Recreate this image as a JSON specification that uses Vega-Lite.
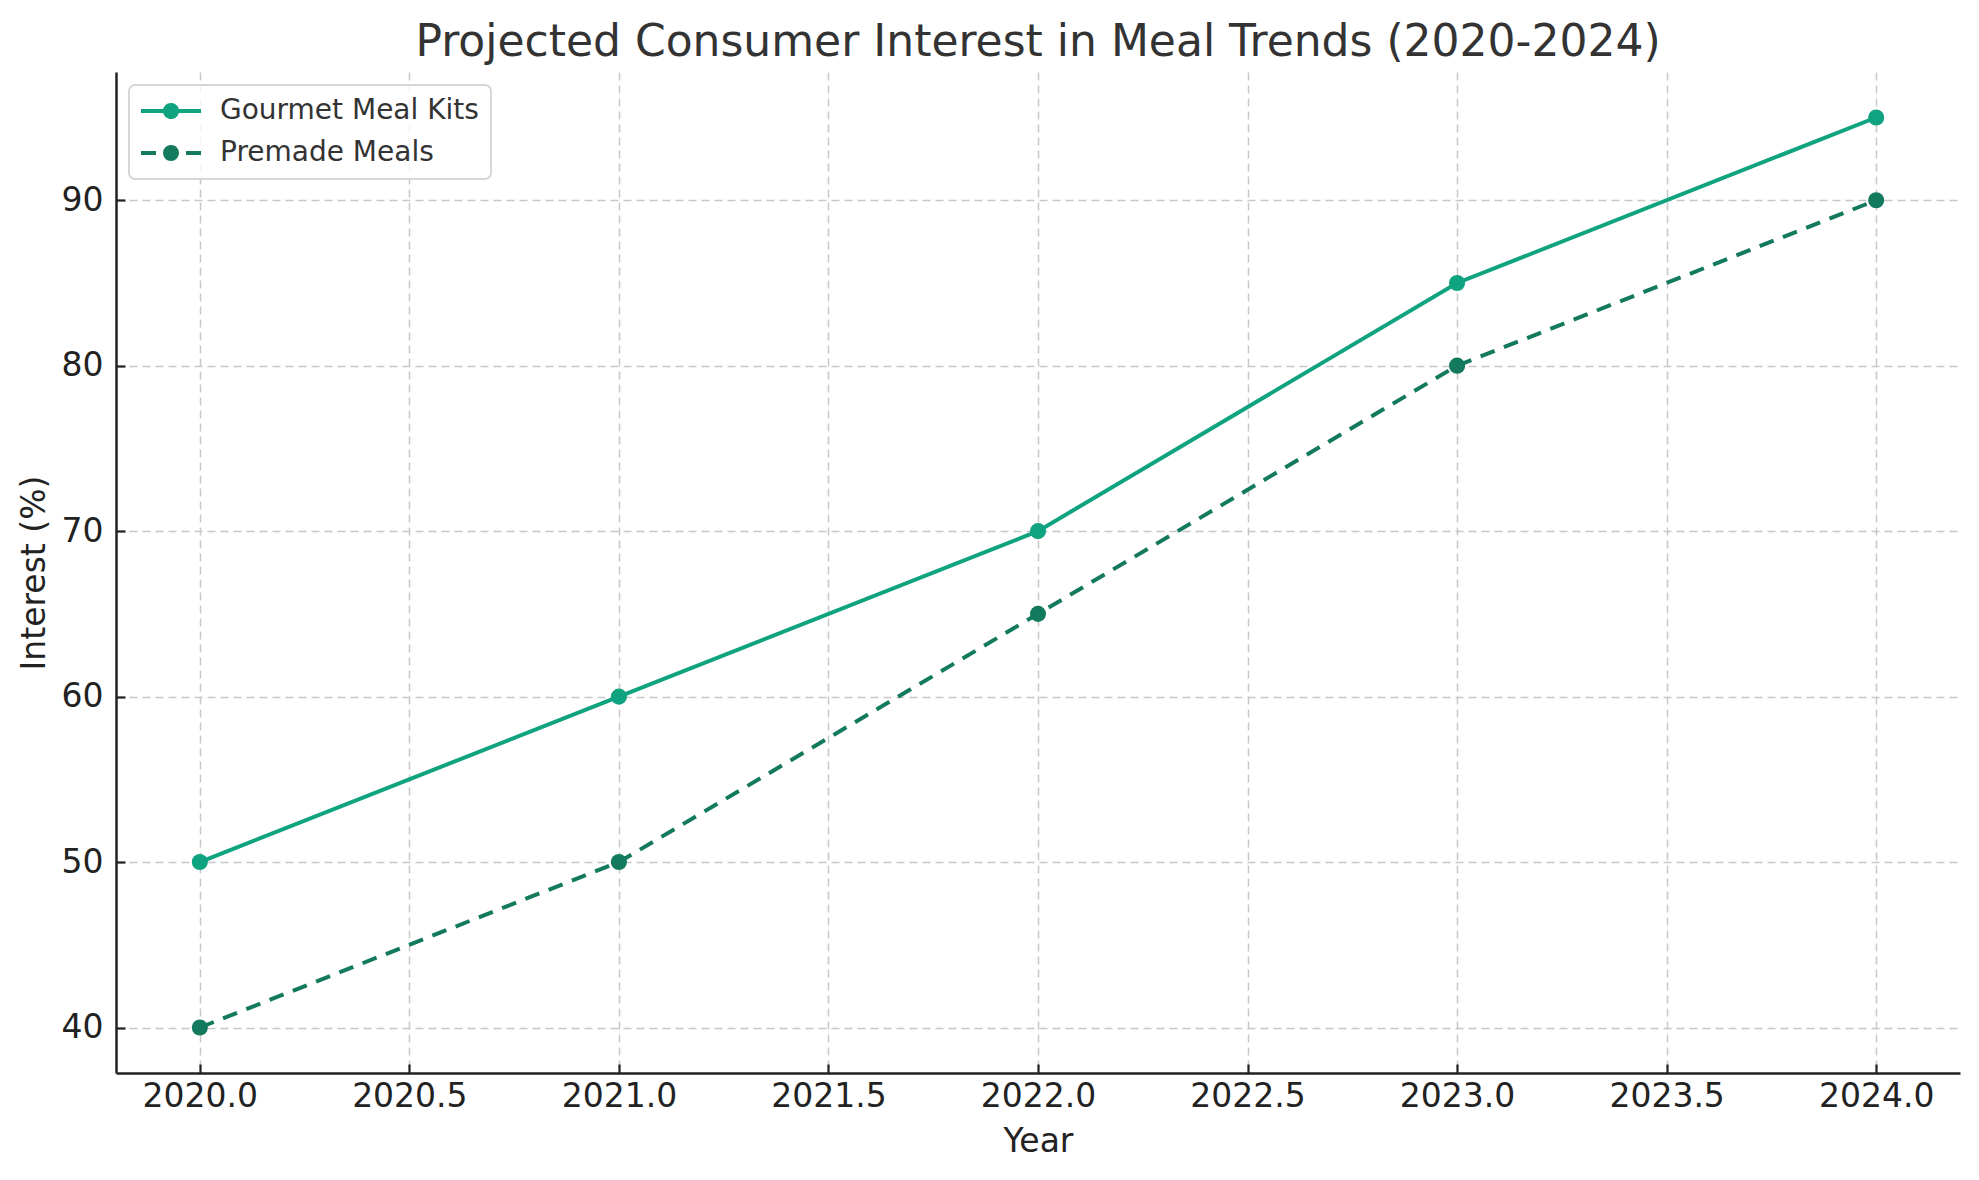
{
  "$schema": "https://vega.github.io/schema/vega-lite/v6.json",
  "autosize": "none",
  "width": 1844,
  "height": 1001,
  "padding": {"left": 116, "top": 72, "right": 19, "bottom": 107},
  "background": "white",
  "title": {
    "text": "Projected Consumer Interest in Meal Trends (2020-2024)",
    "font": "DejaVu Sans",
    "fontSize": 44,
    "fontWeight": "normal",
    "color": "#333333",
    "anchor": "middle",
    "offset": 7
  },
  "config": {
    "font": "DejaVu Sans",
    "view": {"stroke": null},
    "axis": {
      "labelFont": "DejaVu Sans",
      "labelFontSize": 33,
      "labelColor": "#222222",
      "titleFont": "DejaVu Sans",
      "titleFontSize": 33,
      "titleFontWeight": "normal",
      "titleColor": "#222222",
      "domainColor": "#222222",
      "domainWidth": 2.5,
      "tickColor": "#222222",
      "tickWidth": 2.2,
      "tickSize": -9,
      "gridColor": "#c8c8c8",
      "gridWidth": 1.5,
      "gridDash": [8, 5]
    }
  },
  "data": {
    "values": [
      {"year": 2020, "series": "Gourmet Meal Kits", "interest": 50},
      {"year": 2021, "series": "Gourmet Meal Kits", "interest": 60},
      {"year": 2022, "series": "Gourmet Meal Kits", "interest": 70},
      {"year": 2023, "series": "Gourmet Meal Kits", "interest": 85},
      {"year": 2024, "series": "Gourmet Meal Kits", "interest": 95},
      {"year": 2020, "series": "Premade Meals", "interest": 40},
      {"year": 2021, "series": "Premade Meals", "interest": 50},
      {"year": 2022, "series": "Premade Meals", "interest": 65},
      {"year": 2023, "series": "Premade Meals", "interest": 80},
      {"year": 2024, "series": "Premade Meals", "interest": 90}
    ]
  },
  "encoding": {
    "x": {
      "field": "year",
      "type": "quantitative",
      "scale": {"domain": [2019.8, 2024.2], "nice": false, "zero": false},
      "axis": {
        "title": "Year",
        "values": [2020, 2020.5, 2021, 2021.5, 2022, 2022.5, 2023, 2023.5, 2024],
        "format": ".1f",
        "labelPadding": 16,
        "titlePadding": 12
      }
    },
    "y": {
      "field": "interest",
      "type": "quantitative",
      "scale": {"domain": [37.25, 97.75], "nice": false, "zero": false},
      "axis": {
        "title": "Interest (%)",
        "values": [40, 50, 60, 70, 80, 90],
        "labelPadding": 22,
        "titlePadding": 10
      }
    },
    "color": {
      "field": "series",
      "type": "nominal",
      "scale": {
        "domain": ["Gourmet Meal Kits", "Premade Meals"],
        "range": ["#10A37F", "#147A5E"]
      },
      "legend": {
        "title": null,
        "orient": "top-left",
        "offset": 13,
        "padding": 12,
        "rowPadding": 14,
        "symbolType": "M-2.5,0H0M2.5,0H0M0.5,0A0.5,0.5,0,1,1,-0.5,0A0.5,0.5,0,1,1,0.5,0ZM-0.5,0A0.5,0.5,0,1,1,0.5,0A0.5,0.5,0,1,1,-0.5,0Z",
        "symbolSize": 576,
        "symbolStrokeWidth": 4,
        "symbolOffset": 16,
        "labelOffset": 35,
        "labelLimit": 0,
        "labelFont": "DejaVu Sans",
        "labelFontSize": 28,
        "labelColor": "#333333",
        "strokeColor": "#d6d6d6",
        "cornerRadius": 6,
        "fillColor": "rgba(255,255,255,0.8)",
        "encode": {
          "legend": {
            "update": {
              "strokeWidth": {"value": 2}
            }
          },
          "symbols": {
            "update": {
              "fill": {"signal": "datum.value === 'Premade Meals' ? '#147A5E' : '#10A37F'"},
              "stroke": {"signal": "datum.value === 'Premade Meals' ? '#147A5E' : '#10A37F'"},
              "strokeDash": {"signal": "datum.value === 'Premade Meals' ? [15, 10] : [1, 0]"},
              "opacity": {"value": 1}
            }
          }
        }
      }
    }
  },
  "layer": [
    {
      "transform": [{"filter": "datum.series === 'Gourmet Meal Kits'"}],
      "mark": {"type": "line", "strokeWidth": 4}
    },
    {
      "transform": [{"filter": "datum.series === 'Premade Meals'"}],
      "mark": {"type": "line", "strokeWidth": 4, "strokeDash": [15, 10]}
    },
    {
      "mark": {"type": "point", "filled": true, "size": 260, "opacity": 1}
    }
  ]
}
